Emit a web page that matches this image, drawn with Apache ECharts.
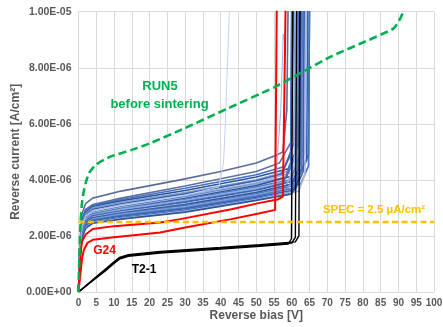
<!DOCTYPE html>
<html>
<head>
<meta charset="utf-8">
<script src="https://cdn.jsdelivr.net/npm/echarts@6/dist/echarts.min.js"></script>
<style>
html,body{margin:0;padding:0;background:#fff;}
#c{width:443px;height:327px;}
</style>
</head>
<body>
<div id="c"></div>
<script>
// ---- tick labels ----
const yTickLabels = ['0.00E+00','2.00E-06','4.00E-06','6.00E-06','8.00E-06','1.00E-05'];
// values below: reverse bias [V], reverse current in units of 1E-06 A/cm2

// RUN5 before sintering (green dashed)
const run5 = [[0,0],[0.3,1.5],[0.6,2.5],[1,3.2],[1.5,3.6],[2,3.88],[3,4.25],[5,4.55],[9,4.83],[15,5.07],[20,5.3],[30,5.85],[42,6.55],[55,7.3],[63,7.85],[71,8.4],[80,8.9],[88,9.35],[89,9.45],[90.5,9.75],[91.5,10.05],[92,10.3]];

// SPEC line
const specLevel = 2.5;
const specRange = [0, 100];

// G24 (red)
const g24 = [
  [[0,0],[0.5,0.6],[1,1.2],[1.5,1.5],[2.5,1.75],[4,1.86],[10,1.95],[23,2.12],[30,2.3],[43,2.6],[51,2.81],[55.3,2.93],[55.8,10.6]],
  [[0,0],[0.3,0.8],[0.7,1.5],[1,1.8],[2,2.05],[4,2.25],[10,2.35],[23,2.48],[28.6,2.6],[43,2.95],[51,3.18],[56,3.3],[57.5,3.4],[58.3,10.6]]
];

// T2-1 (black)
const t21 = [
  [[0,0],[4,0.4],[8,0.8],[10,1.02],[11.5,1.17],[14,1.27],[23,1.39],[40,1.53],[51,1.63],[59,1.71],[59.9,1.9],[60.3,10.6]],
  [[0,0],[4,0.42],[8,0.83],[10,1.05],[11.5,1.2],[14,1.3],[23,1.42],[40,1.56],[51,1.66],[60,1.75],[61,1.95],[61.4,10.6]],
  [[0,0],[4,0.44],[8,0.86],[10,1.08],[11.5,1.23],[14,1.33],[23,1.45],[40,1.59],[51,1.69],[61,1.79],[62,2.0],[62.3,10.6]]
];

// blue bundle
const blueCurves = [
  [[0,0],[0.4,1.8],[1,2.8],[2,3.15],[4,3.35],[12,3.6],[28.6,4.0],[40,4.3],[50,4.6],[55.8,4.89],[57.5,5.0],[58.6,6.5],[59,10.6]],
  [[0,0],[0.4,1.7],[1,2.6],[2,2.95],[4,3.12],[12,3.35],[30,3.78],[50,4.3],[56.5,4.6],[60,5.4],[60.5,10.6]],
  [[0,0],[0.4,1.65],[1,2.55],[2,2.92],[4,3.1],[12,3.3],[30,3.7],[50,4.18],[58,4.48],[60.6,5.3],[61,10.6]],
  [[0,0],[0.4,1.6],[1,2.5],[2,2.85],[4,3.05],[12,3.25],[30,3.62],[50,4.1],[59,4.4],[61.7,5.2],[62,10.6]],
  [[0,0],[0.4,1.6],[1,2.45],[2,2.8],[4,3.0],[12,3.2],[30,3.55],[50,4.0],[60,4.35],[63.2,5.1],[63.5,10.6]],
  [[0,0],[0.4,1.55],[1,2.4],[2,2.76],[4,2.95],[12,3.15],[30,3.5],[50,3.97],[57,4.2],[59.7,4.9],[60,10.6]],
  [[0,0],[0.4,1.55],[1,2.38],[2,2.72],[4,2.9],[12,3.1],[30,3.45],[50,3.9],[61,4.3],[63.7,5.0],[64,10.6]],
  [[0,0],[0.4,1.5],[1,2.33],[2,2.67],[4,2.85],[12,3.05],[30,3.4],[50,3.85],[58.5,4.1],[61.2,4.9],[61.5,10.6]],
  [[0,0],[0.4,1.5],[1,2.3],[2,2.63],[4,2.82],[12,3.0],[30,3.35],[50,3.8],[62,4.2],[64.7,4.9],[65,10.6]],
  [[0,0],[0.4,1.45],[1,2.27],[2,2.6],[4,2.78],[12,2.97],[30,3.3],[50,3.75],[59.5,4.0],[62.2,4.8],[62.5,10.6]],
  [[0,0],[0.4,1.45],[1,2.25],[2,2.57],[4,2.75],[12,2.95],[30,3.27],[50,3.7],[60.5,4.0],[62.7,4.7],[63,10.6]],
  [[0,0],[0.4,1.4],[1,2.2],[2,2.54],[4,2.72],[12,2.9],[30,3.22],[50,3.65],[57.5,3.85],[59.7,4.6],[60,10.6]],
  [[0,0],[0.4,1.4],[1,2.2],[2,2.52],[4,2.7],[12,2.88],[30,3.2],[50,3.62],[61.5,4.0],[64.2,4.7],[64.5,10.6]],
  [[0,0],[0.4,1.38],[1,2.17],[2,2.49],[4,2.67],[12,2.85],[30,3.15],[50,3.58],[58.5,3.8],[60.7,4.5],[61,10.6]],
  [[0,0],[0.4,1.35],[1,2.15],[2,2.47],[4,2.65],[12,2.82],[30,3.12],[50,3.55],[60,3.85],[62.2,4.5],[62.5,10.6]],
  [[0,0],[0.4,1.35],[1,2.12],[2,2.44],[4,2.62],[12,2.8],[30,3.08],[50,3.5],[62.5,3.85],[64.7,4.5],[65,10.6]],
  [[0,0],[0.4,1.3],[1,2.1],[2,2.42],[4,2.6],[12,2.77],[30,3.05],[50,3.47],[59,3.7],[61.2,4.4],[61.5,10.6]],
  [[0,0],[0.4,1.3],[1,2.07],[2,2.39],[4,2.57],[12,2.74],[30,3.0],[50,3.42],[60.5,3.7],[62.7,4.4],[63,10.6]],
  [[0,0],[0.4,1.28],[1,2.05],[2,2.37],[4,2.55],[12,2.7],[30,2.97],[50,3.38],[61,3.65],[63.2,4.3],[63.5,10.6]],
  [[0,0],[0.4,1.25],[1,2.0],[2,2.32],[4,2.5],[12,2.66],[30,2.92],[50,3.33],[59.5,3.55],[61.7,4.2],[62,10.6]],
  [[0,0],[0.4,1.22],[1,1.97],[2,2.29],[4,2.47],[12,2.62],[30,2.88],[50,3.3],[62,3.6],[63.7,4.2],[64,10.6]],
  [[0,0],[0.4,1.2],[1,1.95],[2,2.27],[4,2.45],[12,2.6],[30,2.85],[50,3.27],[60,3.5],[62.2,4.1],[62.5,10.6]],
  [[0,0],[0.4,1.5],[1,2.35],[2,2.7],[4,2.88],[12,3.08],[30,3.45],[39.5,3.75],[40.8,4.6],[41.3,6],[42.6,10.6]],
  [[0,0],[0.4,1.5],[1,2.3],[2,2.65],[4,2.83],[12,3.02],[30,3.38],[50,3.85],[55.5,4.05],[56.9,6.5],[57.6,9.2],[58.0,8.85],[58.4,10.6]]
];
const blueColors = ['#5A6C9C','#5F72A2','#4472C4','#2F5597','#7F9FD6','#3A62B0','#9DB3DF','#4472C4','#2F5597','#5078C0','#8FAADC','#4472C4','#3A62B0','#9DB3DF','#2F5597','#4472C4','#7F9FD6','#5078C0','#3A62B0','#4472C4','#A9BCE3','#2F5597','#C5D3EE','#9DB3DF'];

const series = [];
blueCurves.forEach((d, i) => {
  series.push({type:'line', data:d, showSymbol:false, smooth:false, z:2,
    lineStyle:{color:blueColors[i % blueColors.length], width: i===22||i===23 ? 1 : 1.6}});
});
t21.forEach(d => series.push({type:'line', data:d, showSymbol:false, z:3, lineStyle:{color:'#000000', width:1.4}}));
g24.forEach(d => series.push({type:'line', data:d, showSymbol:false, z:4, lineStyle:{color:'#FF0000', width:2}}));
series.push({type:'line', data:run5, showSymbol:false, z:5, smooth:0.2,
  lineStyle:{color:'#00B050', width:2.6, type:[8,4]}});
series.push({type:'line', data:[[specRange[0],specLevel],[specRange[1],specLevel]], showSymbol:false, z:6,
  lineStyle:{color:'#FFC000', width:2.6, type:[6,3.5]}});

const grey = '#595959';
const chart = echarts.init(document.getElementById('c'), null, {renderer:'canvas'});
chart.setOption({
  animation:false,
  backgroundColor:'#ffffff',
  grid:{left:78.5, right:9, top:11.7, bottom:35, containLabel:false, outerBoundsMode:'none'},
  xAxis:{type:'value', min:0, max:100, interval:5,
    name:'Reverse bias [V]', nameLocation:'middle', nameGap:18, nameMoveOverlap:false,
    nameTextStyle:{color:grey, fontSize:12, fontWeight:'bold', fontFamily:'Liberation Sans'},
    axisLine:{show:true, lineStyle:{color:'#D9D9D9'}}, axisTick:{show:false},
    axisLabel:{color:grey, fontSize:10, fontWeight:'bold', fontFamily:'Liberation Sans', margin:6},
    splitLine:{show:true, lineStyle:{color:'#D9D9D9', width:1}}},
  yAxis:{type:'value', min:0, max:10, interval:2,
    name:'Reverse current [A/cm²]', nameLocation:'middle', nameGap:57, nameMoveOverlap:false,
    nameTextStyle:{color:grey, fontSize:12, fontWeight:'bold', fontFamily:'Liberation Sans'},
    axisLine:{show:true, lineStyle:{color:'#D9D9D9'}}, axisTick:{show:false},
    axisLabel:{color:grey, fontSize:10.5, fontWeight:'bold', fontFamily:'Liberation Sans', margin:7,
      formatter:(v) => yTickLabels[Math.round(v/2)]},
    splitLine:{show:true, lineStyle:{color:'#D9D9D9', width:1}}},
  series: series,
  graphic:[
    {type:'text', x:160, y:86, style:{text:'RUN5', fill:'#00B050', font:'bold 13px "Liberation Sans"', textAlign:'center', textVerticalAlign:'middle'}, z:10},
    {type:'text', x:159.5, y:104, style:{text:'before sintering', fill:'#00B050', font:'bold 13px "Liberation Sans"', textAlign:'center', textVerticalAlign:'middle'}, z:10},
    {type:'text', x:374, y:210, style:{text:'SPEC = 2.5 µA/cm²', fill:'#FFC000', font:'bold 11.5px "Liberation Sans"', textAlign:'center', textVerticalAlign:'middle'}, z:10},
    {type:'text', x:104.5, y:251, style:{text:'G24', fill:'#FF0000', font:'bold 12px "Liberation Sans"', textAlign:'center', textVerticalAlign:'middle'}, z:10},
    {type:'text', x:144, y:270, style:{text:'T2-1', fill:'#000000', font:'bold 12px "Liberation Sans"', textAlign:'center', textVerticalAlign:'middle'}, z:10}
  ]
});
</script>
</body>
</html>
